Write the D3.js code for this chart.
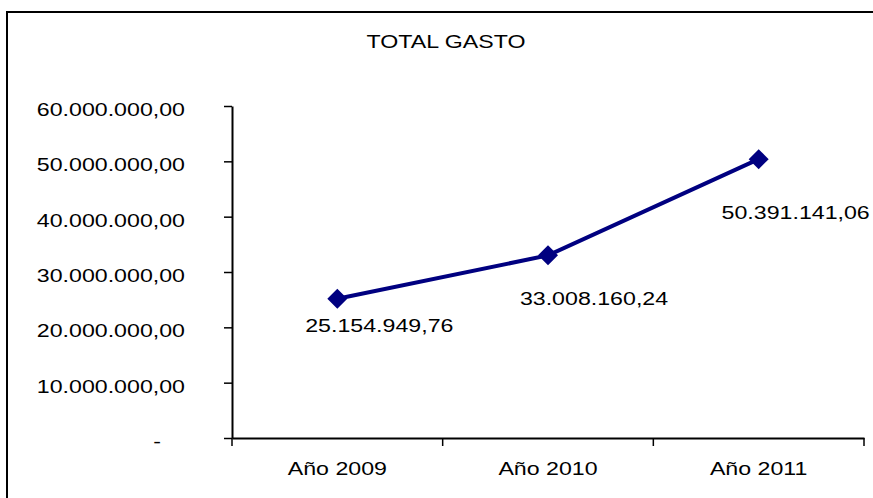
<!DOCTYPE html>
<html>
<head>
    <meta charset="utf-8">
    <title>TOTAL GASTO</title>
    <script src="https://d3js.org/d3.v7.min.js"></script>
    <style>
        body { margin: 0; background: #fff; }
        text { font-family: "Liberation Sans", Arial, sans-serif; font-size: 19px; fill: #000; }
    </style>
</head>
<body>
    <div id="my_dataviz"></div>

    <script>
        // data
        var categories = ["Año 2009", "Año 2010", "Año 2011"];
        var totalGasto = [25154949.76, 33008160.24, 50391141.06];
        var yTicks = [0, 10000000, 20000000, 30000000, 40000000, 50000000, 60000000];

        var W = 873, H = 498;
        var sx = 1.22; // the original picture is stretched sideways

        // spanish number format: 50.391.141,06
        var esFmt = d3.formatLocale({decimal: ",", thousands: ".", grouping: [3], currency: ["", ""]}).format(",.2f");

        var svg = d3.select("#my_dataviz")
            .append("svg")
            .attr("width", W)
            .attr("height", H);

        svg.append("rect")
            .attr("width", W).attr("height", H)
            .attr("fill", "#fff");

        // chart frame (right and bottom edges fall outside the picture)
        svg.append("rect")
            .attr("x", 7).attr("y", 12)
            .attr("width", 900).attr("height", 520)
            .attr("fill", "none")
            .attr("stroke", "#000")
            .attr("stroke-width", 2);

        // title
        svg.append("g")
            .attr("transform", "translate(446,48) scale(" + sx + ",1)")
            .append("text")
            .attr("text-anchor", "middle")
            .text("TOTAL GASTO");

        var x = d3.scaleBand()
            .domain(categories)
            .range([232, 864]);

        var y = d3.scaleLinear()
            .domain([0, 60000000])
            .range([438, 106]);

        // Y axis
        var yAxis = svg.append("g")
            .attr("transform", "translate(232,0)")
            .call(d3.axisLeft(y)
                .tickValues(yTicks)
                .tickSizeInner(8)
                .tickSizeOuter(0)
                .tickFormat(function(d) { return d === 0 ? "-" : esFmt(d); }));
        yAxis.select(".domain").attr("stroke-width", 2);
        yAxis.selectAll(".tick line").attr("stroke-width", 1.5);
        yAxis.selectAll(".tick text")
            .attr("font-family", null).attr("font-size", null)
            .attr("transform", "scale(" + sx + ",1)")
            .attr("x", function(d) { return d === 0 ? -75 / sx : -47 / sx; })
            .attr("text-anchor", function(d) { return d === 0 ? "middle" : "end"; })
            .attr("dy", "0.5em");

        // X axis
        var xAxis = svg.append("g")
            .attr("transform", "translate(0,438)")
            .call(d3.axisBottom(x).tickSizeInner(0).tickSizeOuter(0));
        xAxis.select(".domain").attr("stroke-width", 2);
        xAxis.selectAll(".tick line").remove();
        xAxis.selectAll(".tick text")
            .attr("font-family", null).attr("font-size", null)
            .attr("transform", "scale(" + sx + ",1)")
            .attr("y", 37)
            .attr("dy", 0);

        // category boundary ticks
        var bounds = categories.map(function(c) { return x(c); });
        bounds.push(x(categories[categories.length - 1]) + x.bandwidth());
        xAxis.selectAll(".bound")
            .data(bounds)
            .enter()
            .append("line")
            .attr("x1", function(d) { return d; })
            .attr("x2", function(d) { return d; })
            .attr("y1", 0)
            .attr("y2", 8)
            .attr("stroke", "#000")
            .attr("stroke-width", 1.5);

        var pts = categories.map(function(c, i) {
            return {cat: c, v: totalGasto[i]};
        });
        var cx = function(d) { return x(d.cat) + x.bandwidth() / 2; };

        // the line
        svg.append("path")
            .datum(pts)
            .attr("fill", "none")
            .attr("stroke", "#000080")
            .attr("stroke-width", 4)
            .attr("d", d3.line()
                .x(cx)
                .y(function(d) { return y(d.v); }));

        // diamond markers
        svg.append("g")
            .selectAll("path")
            .data(pts)
            .enter()
            .append("path")
            .attr("d", d3.symbol().type(d3.symbolSquare).size(200))
            .attr("transform", function(d) {
                return "translate(" + cx(d) + "," + y(d.v) + ") rotate(45)";
            })
            .attr("fill", "#000080");

        // data labels, shifted like in the original
        var labelShift = [[42, 33], [46, 50], [37, 60]];
        svg.append("g")
            .selectAll("g")
            .data(pts)
            .enter()
            .append("g")
            .attr("transform", function(d, i) {
                return "translate(" + (cx(d) + labelShift[i][0]) + "," + (y(d.v) + labelShift[i][1]) + ") scale(" + sx + ",1)";
            })
            .append("text")
            .attr("text-anchor", "middle")
            .text(function(d) { return esFmt(d.v); });
    </script>
</body>
</html>
